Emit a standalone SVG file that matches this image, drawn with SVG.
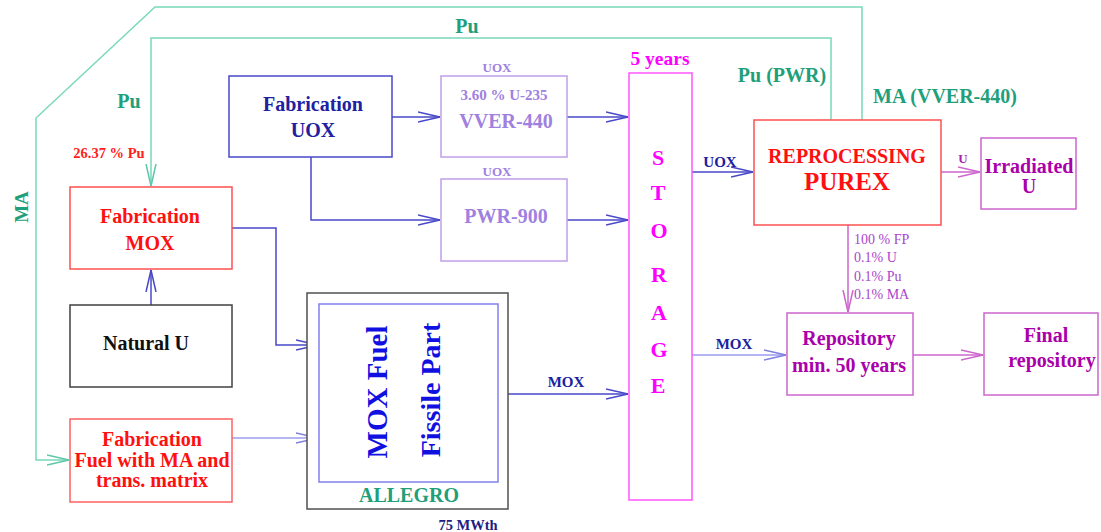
<svg xmlns="http://www.w3.org/2000/svg" width="1101" height="532" viewBox="0 0 1101 532" font-family="'Liberation Serif', 'DejaVu Serif', serif">
<style>
text{font-family:'Liberation Serif','DejaVu Serif',serif;font-weight:bold;text-anchor:middle}
text.n{font-weight:normal;text-anchor:start}
.box{fill:#fff;stroke-width:1.5}
.c{fill:none;stroke-width:1.5}
.blue{stroke:#4848c8}
.green{stroke:#7ad8bc}
.mag{stroke:#cc66cc}
.lblue{stroke:#9c9cf0}
</style>
<defs>
<marker id="ab" markerUnits="userSpaceOnUse" markerWidth="24" markerHeight="14" refX="22" refY="6" orient="auto"><path d="M0,1 L22,6 L0,11" fill="none" stroke="#4848c8" stroke-width="1.5"/></marker>
<marker id="ag" markerUnits="userSpaceOnUse" markerWidth="24" markerHeight="14" refX="22" refY="6" orient="auto"><path d="M0,1 L22,6 L0,11" fill="none" stroke="#5cc8a8" stroke-width="1.5"/></marker>
<marker id="am" markerUnits="userSpaceOnUse" markerWidth="24" markerHeight="14" refX="22" refY="6" orient="auto"><path d="M0,1 L22,6 L0,11" fill="none" stroke="#cc66cc" stroke-width="1.5"/></marker>
<marker id="al" markerUnits="userSpaceOnUse" markerWidth="24" markerHeight="14" refX="22" refY="6" orient="auto"><path d="M0,1 L22,6 L0,11" fill="none" stroke="#8080e0" stroke-width="1.5"/></marker>
</defs>
<rect width="1101" height="532" fill="#fff"/>
<g id="connectors">
<path class="c green" d="M862,120 V7 H155 L36,118 V460 H69" marker-end="url(#ag)"/>
<path class="c green" d="M831,120 V38 H151 V186" marker-end="url(#ag)"/>
<path class="c blue" d="M151,305 V270" marker-end="url(#ab)"/>
<path class="c blue" d="M392,117 H440" marker-end="url(#ab)"/>
<path class="c blue" d="M311,157 V220 H440" marker-end="url(#ab)"/>
<path class="c blue" d="M567,117 H628" marker-end="url(#ab)"/>
<path class="c blue" d="M567,220 H628" marker-end="url(#ab)"/>
<path class="c blue" d="M692,172 H753" marker-end="url(#ab)"/>
<path class="c mag" d="M941,172 H980" marker-end="url(#am)"/>
<path class="c mag" d="M848,225 V312" marker-end="url(#am)"/>
<path class="c lblue" d="M692,355 H786" marker-end="url(#al)"/>
<path class="c mag" d="M913,355 H983" marker-end="url(#am)"/>
<path class="c blue" d="M232,228 H276 V345 H318" marker-end="url(#ab)"/>
<path class="c lblue" d="M232,438 H318" marker-end="url(#al)"/>
<path class="c blue" d="M498,394 H628" marker-end="url(#ab)"/>
</g>
<g id="labels">
<text x="467" y="33" font-size="20" fill="#1fa07a">Pu</text>
<text x="129" y="108" font-size="20" fill="#1fa07a">Pu</text>
<text x="109" y="158" font-size="14.5" fill="#ff2020">26.37 % Pu</text>
<text x="0" y="0" font-size="19" fill="#1fa07a" transform="translate(28,207) rotate(-90)">MA</text>
<text x="782" y="82" font-size="20" fill="#1fa07a">Pu (PWR)</text>
<text x="945" y="103" font-size="20" fill="#1fa07a">MA (VVER-440)</text>
<text x="660" y="65" font-size="19.5" fill="#ff00ff">5 years</text>
<text x="720" y="167" font-size="15" fill="#2020a0">UOX</text>
<text x="963" y="163" font-size="13" fill="#aa22aa">U</text>
<text x="734" y="349" font-size="15" fill="#2020a0">MOX</text>
<text x="566" y="387" font-size="15" fill="#2020a0">MOX</text>
<text x="468" y="530" font-size="14.5" fill="#202080">75 MWth</text>
<text class="n" x="854" y="244" font-size="14" fill="#aa44cc">100 % FP</text>
<text class="n" x="854" y="262" font-size="14" fill="#aa44cc">0.1% U</text>
<text class="n" x="854" y="281" font-size="14" fill="#aa44cc">0.1% Pu</text>
<text class="n" x="854" y="299" font-size="14" fill="#aa44cc">0.1% MA</text>
<text x="497" y="72" font-size="13" fill="#a080e0">UOX</text>
<text x="497" y="176" font-size="13" fill="#a080e0">UOX</text>
</g>
<g id="fab-mox">
<rect class="box" x="70" y="187" width="162" height="82" stroke="#ff5050"/>
<text x="150" y="223" font-size="20" fill="#ff1010">Fabrication</text>
<text x="150" y="250" font-size="20" fill="#ff1010">MOX</text>
</g>
<g id="natural-u">
<rect class="box" x="70" y="305" width="162" height="82" stroke="#404040"/>
<text x="146" y="350" font-size="20" fill="#101010">Natural U</text>
</g>
<g id="fab-fuel">
<rect class="box" x="70" y="419" width="162" height="83" stroke="#ff6060"/>
<text x="152" y="446" font-size="20" fill="#ff1010">Fabrication</text>
<text x="152" y="467" font-size="20" fill="#ff1010">Fuel with MA and</text>
<text x="152" y="487" font-size="20" fill="#ff1010">trans. matrix</text>
</g>
<g id="fab-uox">
<rect class="box" x="229" y="76" width="163" height="81" stroke="#4848c8"/>
<text x="313" y="111" font-size="20" fill="#2020a0">Fabrication</text>
<text x="313" y="137" font-size="20" fill="#2020a0">UOX</text>
</g>
<g id="vver">
<rect class="box" x="441" y="76" width="126" height="81" stroke="#c0a0e8"/>
<text x="504" y="100" font-size="15" fill="#a080e0">3.60 % U-235</text>
<text x="506" y="128" font-size="20" fill="#a080e0">VVER-440</text>
</g>
<g id="pwr">
<rect class="box" x="441" y="179" width="126" height="82" stroke="#c0a0e8"/>
<text x="506" y="223" font-size="20" fill="#a080e0">PWR-900</text>
</g>
<g id="storage">
<rect class="box" x="629" y="73" width="63" height="427" stroke="#ff55ff"/>
<text x="658" y="165" font-size="22" fill="#ff00ff">S</text>
<text x="658" y="200" font-size="22" fill="#ff00ff">T</text>
<text x="659" y="238" font-size="22" fill="#ff00ff">O</text>
<text x="659" y="282" font-size="22" fill="#ff00ff">R</text>
<text x="659" y="320" font-size="22" fill="#ff00ff">A</text>
<text x="659" y="357" font-size="22" fill="#ff00ff">G</text>
<text x="658" y="393" font-size="22" fill="#ff00ff">E</text>
</g>
<g id="reprocessing">
<rect class="box" x="754" y="120" width="187" height="105" stroke="#ff5050"/>
<text x="847" y="163" font-size="20" fill="#ff1010">REPROCESSING</text>
<text x="847" y="190" font-size="25" fill="#ff1010">PUREX</text>
</g>
<g id="irradiated-u">
<rect class="box" x="981" y="138" width="95" height="71" stroke="#cc66cc"/>
<text x="1029" y="173" font-size="20" fill="#aa00aa">Irradiated</text>
<text x="1029" y="193" font-size="20" fill="#aa00aa">U</text>
</g>
<g id="repository">
<rect class="box" x="787" y="313" width="126" height="82" stroke="#cc66cc"/>
<text x="849" y="345" font-size="20" fill="#aa00aa">Repository</text>
<text x="849" y="372" font-size="20" fill="#aa00aa">min. 50 years</text>
</g>
<g id="final-repository">
<rect class="box" x="984" y="313" width="114" height="82" stroke="#cc66cc"/>
<text x="1046" y="342" font-size="20" fill="#aa00aa">Final</text>
<text x="1052" y="367" font-size="20" fill="#aa00aa">repository</text>
</g>
<g id="allegro">
<rect class="box" x="307" y="293" width="201" height="216" stroke="#505050"/>
<rect class="box" x="319" y="304" width="179" height="178" stroke="#8080f0"/>
<text x="0" y="0" font-size="29" fill="#1010e0" transform="translate(387,392) rotate(-90)">MOX Fuel</text>
<text x="0" y="0" font-size="28" fill="#1010e0" transform="translate(440,390) rotate(-90)">Fissile Part</text>
<text x="409" y="502" font-size="20" fill="#1fa07a">ALLEGRO</text>
</g>
</svg>
